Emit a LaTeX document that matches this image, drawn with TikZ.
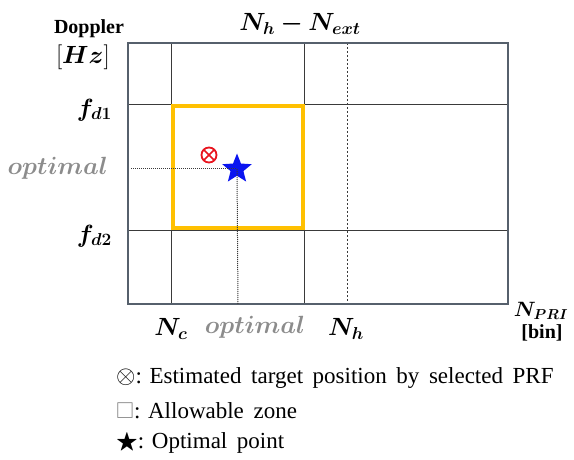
\documentclass[tikz,border=0pt]{standalone}
\usepackage{fontspec}
\setmainfont{Liberation Serif}
\newfontfamily\labelfont{Liberation Serif Bold}
\usepackage{amssymb}
\usepackage{bm}
\usetikzlibrary{shapes.geometric, positioning}
\definecolor{Frame}{HTML}{56606C}
\definecolor{Grid}{HTML}{3A3A3A}
\definecolor{Zone}{HTML}{FFC000}
\definecolor{StarBlue}{HTML}{0A14F0}
\definecolor{Est}{HTML}{E8141E}
\definecolor{Dim}{HTML}{8C8C8C}

\begin{document}
\begin{tikzpicture}[
            x=1pt, y=-1pt,
            frame/.style={draw=Frame, line width=2pt},
            gridline/.style={draw=Grid, line width=0.8pt},
            guide/.style={draw=Grid, line width=0.8pt, dash pattern=on 2pt off 2pt},
            zone/.style={draw=Zone, line width=3.5pt},
            optline/.style={draw=Grid, line width=1pt, dash pattern=on 1pt off 1pt},
            estmark/.style={
                circle,
                draw=Est,
                line width=1.8pt,
                minimum size=15pt,
                inner sep=0pt,
                path picture={
                    \draw[Est, line width=1.6pt] (path picture bounding box.north west) -- (path picture bounding box.south east);
                    \draw[Est, line width=1.6pt] (path picture bounding box.north east) -- (path picture bounding box.south west);
                }
            },
            axlabel/.style={font=\fontsize{20}{20}\selectfont\labelfont, inner sep=0pt},
            mlabel/.style={font=\fontsize{23}{23}\selectfont, inner sep=0pt},
            optlabel/.style={font=\fontsize{24}{24}\selectfont, inner sep=0pt, text=Dim},
            legend/.style={anchor=west, font=\fontsize{23}{23}\selectfont, inner sep=0pt}
        ]
            \useasboundingbox (0,0) rectangle (574,460);

            % Plot frame and grid
            \coordinate (tl) at (128,43);
            \coordinate (br) at (508,304);
            \draw[gridline] (171,43) -- (171,304);
            \draw[gridline] (304,43) -- (304,304);
            \draw[guide] (347,43) -- (347,304);
            \draw[gridline] (128,104) -- (508,104);
            \draw[gridline] (128,230) -- (508,230);
            \draw[frame] (tl) rectangle (br);

            % Allowable zone
            \coordinate (ztl) at (173,106);
            \coordinate (zbr) at (303,228);
            \draw[zone] (ztl) rectangle (zbr);

            % Optimal point and estimate
            \coordinate (optl) at (131,169);
            \coordinate (optb) at (238,304);
            \node[star, star points=5, star point ratio=2.3, fill=StarBlue, minimum size=31pt, inner sep=0pt] (opt) at (237,169) {};
            \draw[optline] (optl) -- (opt.center);
            \draw[optline] (opt.center) -- (optb);
            \node[estmark] (est) at (209,155) {};

            % Axis labels
            \node[axlabel] (dop) at (89,29) {Doppler};
            \node[mlabel, anchor=east] (hz) at (110,57) {$[\bm{Hz}]$};
            \node[mlabel] (next) at (300,24) {$\bm{N_h - N_{ext}}$};
            \node[mlabel, anchor=east] (fd1) at (112,110) {$\bm{f_{d1}}$};
            \node[optlabel, anchor=east] (opty) at (108,168) {$\bm{optimal}$};
            \node[mlabel, anchor=east] (fd2) at (112,236) {$\bm{f_{d2}}$};
            \node[mlabel] (nc) at (171,329) {$\bm{N_c}$};
            \node[optlabel] (optx) at (255,327) {$\bm{optimal}$};
            \node[mlabel] (nh) at (346,329) {$\bm{N_h}$};
            \node[mlabel, font=\fontsize{20}{20}\selectfont] (npri) at (541,311) {$\bm{N_{PRI}}$};
            \node[axlabel] (bin) at (542,333) {[bin]};

            % Legend
            \node[legend] (leg1) at (116,378) {$\otimes$: Estimated\, target\, position\, by\, selected\, PRF};
            \node[legend] (leg2) at (116,411) {{\color{Dim}$\square$}: Allowable\, zone};
            \node[legend] (leg3) at (116,443) {$\bigstar$: Optimal\, point};
        \end{tikzpicture}
\end{document}
